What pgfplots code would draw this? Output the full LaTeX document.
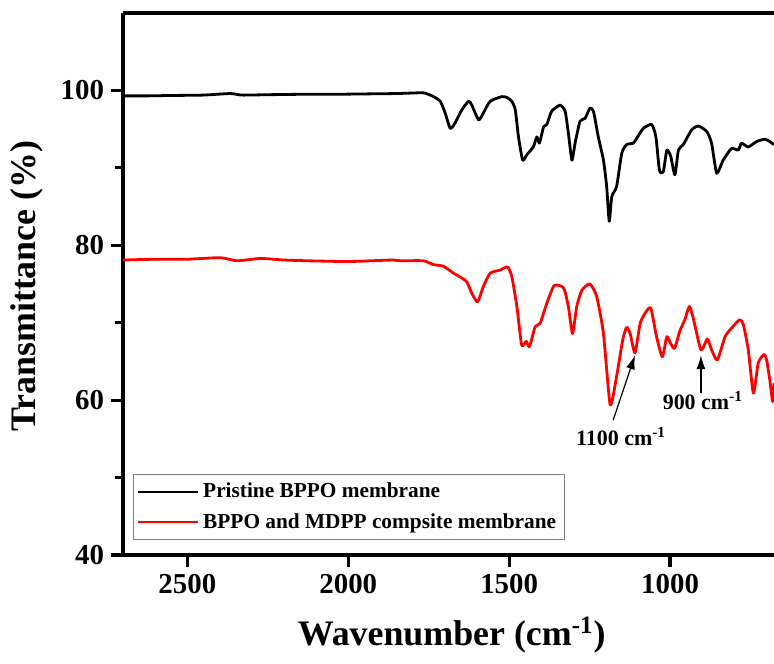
\documentclass[border=0pt]{standalone}
\usepackage{fontspec}
\setmainfont{Liberation Serif}
\usepackage{pgfplots}
\pgfplotsset{compat=1.18}
\usetikzlibrary{arrows.meta}

\begin{document}
\begin{tikzpicture}
\begin{axis}[
  scale only axis, width=325.5bp, height=271bp,
  x dir=reverse, xmin=677, xmax=2700, ymin=40, ymax=110,
  axis x line*=box, axis y line*=left,
  axis line style={-, line width=1.6bp},
  xtick={1000,1500,2000,2500}, xtick pos=bottom,
  ytick={40,60,80,100}, minor ytick={50,70,90}, ytick pos=left,
  tick align=outside, major tick length=6bp, minor tick length=4bp,
  every tick/.style={black, line width=1.6bp},
  /pgf/number format/assume math mode=true,
  /pgf/number format/set thousands separator={},
  tick label style={font=\bfseries\fontsize{14.5}{16}\selectfont},
  xlabel={Wavenumber (cm\textsuperscript{-1})},
  ylabel={Transmittance (\%)},
  every axis x label/.style={at={(rel axis cs:0.505,0)}, yshift=-40bp, anchor=center,
    font=\bfseries\fontsize{18}{20}\selectfont},
  every axis y label/.style={at={(rel axis cs:0,0.496)}, xshift=-48bp, rotate=90, anchor=center,
    font=\bfseries\fontsize{18}{20}\selectfont},
  legend style={at={(rel axis cs:0.015,0.028)}, anchor=south west,
    draw=gray, line width=0.5bp, fill=white,
    font=\bfseries\fontsize{10.7}{12}\selectfont,
    inner xsep=2bp, inner ysep=2bp, row sep=2.5bp},
  legend cell align=left,
  legend image code/.code={\draw[#1, line width=1bp] (0bp,0bp) -- (30bp,0bp);},
]
% Pristine BPPO membrane
\addplot[black, line width=1.4bp, line join=round, smooth, tension=0.35] coordinates {
(2700,99.3) (2620,99.3) (2550,99.35) (2450,99.4) (2366,99.6) (2330,99.4)
(2250,99.45) (2150,99.5) (2050,99.5) (1950,99.55) (1850,99.6) (1776,99.7)
(1761,99.65) (1735,99.2) (1714,98.6) (1699,97.1) (1683,95.1) (1668,95.8)
(1647,97.5) (1626,98.6) (1616,98.1) (1595,96.2) (1580,97.1) (1559,98.6)
(1523,99.2) (1507,99.1) (1492,98.6) (1481,97.5) (1471,94.0) (1458,91.0)
(1445,91.7) (1425,92.7) (1414,94.0) (1406,93.2) (1393,95.3) (1383,95.6)
(1368,97.3) (1342,98.1) (1326,97.3) (1316,94.5) (1305,91.0) (1295,93.2)
(1280,96.0) (1264,96.4) (1249,97.7) (1238,97.3) (1223,94.0) (1207,91.0)
(1197,87.6) (1189,83.1) (1181,86.3) (1166,87.6) (1150,91.9) (1135,93.0)
(1114,93.2) (1104,93.8) (1083,95.1) (1057,95.6) (1044,94.0) (1033,89.7)
(1021,89.5) (1010,92.3) (998,91.5) (985,89.1) (974,92.3) (959,93.0)
(933,94.9) (912,95.4) (886,94.7) (871,93.2) (855,89.3) (835,91.0)
(809,92.5) (788,92.3) (778,93.2) (757,92.7) (731,93.4) (705,93.7)
(690,93.4) (677,93.0)
};
% BPPO and MDPP composite membrane
\addplot[red, line width=1.4bp, line join=round, smooth, tension=0.35] coordinates {
(2700,78.1) (2600,78.2) (2500,78.2) (2398,78.4) (2345,78.0) (2273,78.3)
(2200,78.1) (2127,78.0) (2003,77.9) (1930,78.0) (1860,78.1) (1838,78.0)
(1767,78.0) (1735,77.5) (1704,77.3) (1673,76.4) (1652,75.9) (1632,75.3)
(1616,73.8) (1598,72.7) (1580,74.7) (1559,76.4) (1528,76.8) (1505,77.2)
(1492,76.0) (1476,72.1) (1461,67.1) (1447,67.6) (1437,66.9) (1419,69.5)
(1404,69.9) (1383,72.5) (1360,74.8) (1331,74.5) (1316,72.1) (1303,68.6)
(1290,72.1) (1274,74.2) (1249,75.0) (1228,73.4) (1207,68.6) (1186,59.4)
(1166,63.1) (1147,67.8) (1135,69.4) (1124,68.6) (1109,66.1) (1093,69.9)
(1078,71.2) (1060,71.9) (1042,68.2) (1024,65.6) (1010,68.2) (998,67.3)
(986,66.7) (969,69.0) (954,70.4) (940,72.1) (928,70.6) (904,66.5)
(884,67.9) (871,66.5) (853,65.2) (829,68.2) (809,69.3) (783,70.4)
(772,69.7) (757,66.5) (741,60.9) (726,64.8) (708,65.9) (700,65.2)
(690,62.6) (681,59.8) (677,62.2)
};
\legend{Pristine BPPO membrane, BPPO and MDPP compsite membrane}
\draw[-{Latex[length=7bp,width=4.5bp]}, line width=0.6bp] (axis cs:1177,57.4) -- (axis cs:1109,65.8);
\draw[-{Latex[length=7bp,width=4.5bp]}, line width=0.6bp] (axis cs:904,60.9) -- (axis cs:904,65.8);
\node[anchor=north, inner sep=0pt, font=\bfseries\fontsize{11}{12}\selectfont] at (axis cs:1152,56.5) {1100 cm\textsuperscript{-1}};
\node[anchor=north, inner sep=0pt, font=\bfseries\fontsize{11}{12}\selectfont] at (axis cs:898,61.2) {900 cm\textsuperscript{-1}};
\end{axis}
\pgfresetboundingbox
\path (-61.5bp,-54.5bp) rectangle (325.5bp,277.5bp);
\end{tikzpicture}
\end{document}
